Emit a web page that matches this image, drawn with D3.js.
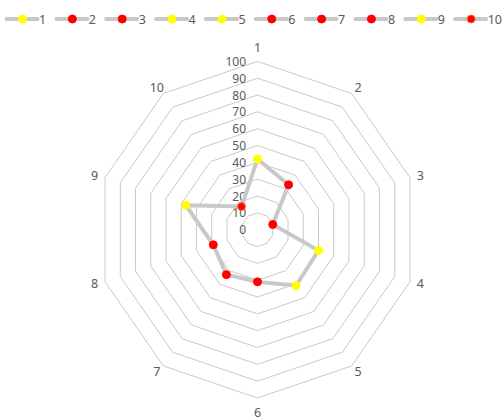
<!DOCTYPE html>
<html>
<head>
<meta charset="utf-8">
<script src="https://cdn.jsdelivr.net/npm/d3@7"></script>
<style>
  html, body { margin: 0; padding: 0; background: #fff; }
  svg { display: block; font-family: "Noto Sans", "Open Sans", sans-serif; }
</style>
</head>
<body>
<svg id="chart" width="504" height="419"></svg>
<script>
// ---- data ----
const categories = ["1", "2", "3", "4", "5", "6", "7", "8", "9", "10"];
const values = [42, 33, 10, 40, 41, 31, 33, 29, 47, 17];
const tickValues = [0, 10, 20, 30, 40, 50, 60, 70, 80, 90, 100];
const legendLabels = ["1", "2", "3", "4", "5", "6", "7", "8", "9", "10"];

// ---- styles ----
const pointFill = ["#FFFF00", "#FF0000", "#FF0000", "#FFFF00", "#FFFF00", "#FF0000", "#FF0000", "#FF0000", "#FFFF00", "#FF0000"];
const pointStroke = ["#FFFF00", "#FF0000", "#FF0000", "#FFFF00", "#FFFF00", "#FF0000", "#FF0000", "#FF0000", "#FFFF00", "#F07C2C"];
const textColor = "#595959";
const gridColor = "#C9C9C9";
const lineColor = "#C8C8C8";

const svg = d3.select("#chart");
const cx = 257.5, cy = 229.7;
const rx = d3.scaleLinear().domain([0, 100]).range([0, 160.3]);
const ry = d3.scaleLinear().domain([0, 100]).range([0, 168.3]);
const angle = d3.scaleLinear().domain([0, categories.length]).range([0, 2 * Math.PI]);

function pt(i, v) {
  const a = angle(i);
  return [cx + rx(v) * Math.sin(a), cy - ry(v) * Math.cos(a)];
}

// grid rings
const ringLine = d3.line().curve(d3.curveLinearClosed);
svg.append("g").selectAll("path")
  .data(tickValues.filter(t => t > 0))
  .join("path")
  .attr("d", t => ringLine(categories.map((c, i) => pt(i, t))))
  .attr("fill", "none")
  .attr("stroke", gridColor)
  .attr("stroke-width", 1);

// tick labels
svg.append("g").selectAll("text")
  .data(tickValues)
  .join("text")
  .attr("x", cx - 11.5)
  .attr("y", t => cy - ry(t))
  .attr("text-anchor", "end")
  .attr("dominant-baseline", "central")
  .attr("font-size", 12)
  .attr("fill", textColor)
  .text(t => t);

// category labels
svg.append("g").selectAll("text")
  .data(categories)
  .join("text")
  .attr("x", (c, i) => pt(i, 100)[0] + 11 * Math.sin(angle(i)))
  .attr("y", (c, i) => {
    const co = Math.cos(angle(i));
    const s = Math.abs(Math.sin(angle(i)));
    return pt(i, 100)[1] - (s < 0.01 ? 14 : 7) * co;
  })
  .attr("text-anchor", "middle")
  .attr("dominant-baseline", "central")
  .attr("font-size", 12.5)
  .attr("fill", textColor)
  .text(c => c);

// series line
svg.append("path")
  .attr("d", ringLine(values.map((v, i) => pt(i, v))))
  .attr("fill", "none")
  .attr("stroke", lineColor)
  .attr("stroke-width", 4)
  .attr("stroke-linejoin", "round");

// markers
svg.append("g").selectAll("circle")
  .data(values)
  .join("circle")
  .attr("cx", (v, i) => pt(i, v)[0])
  .attr("cy", (v, i) => pt(i, v)[1])
  .attr("r", 4)
  .attr("fill", (v, i) => pointFill[i])
  .attr("stroke", (v, i) => pointStroke[i])
  .attr("stroke-width", 1);

// legend
const lx = d3.scaleLinear().domain([0, legendLabels.length]).range([6.5, 505]);
const ly = 19;
const lg = svg.append("g").selectAll("g")
  .data(legendLabels)
  .join("g")
  .attr("transform", (d, i) => `translate(${lx(i)},${ly})`);
lg.append("line")
  .attr("x1", 0).attr("x2", 31)
  .attr("y1", 0).attr("y2", 0)
  .attr("stroke", lineColor)
  .attr("stroke-width", 4)
  .attr("stroke-linecap", "round");
lg.append("circle")
  .attr("cx", 16).attr("cy", 0).attr("r", 4)
  .attr("fill", (d, i) => pointFill[i])
  .attr("stroke", (d, i) => pointStroke[i])
  .attr("stroke-width", 1);
lg.append("text")
  .attr("x", 32.5).attr("y", 0)
  .attr("dominant-baseline", "central")
  .attr("font-size", 12.5)
  .attr("fill", textColor)
  .text(d => d);
</script>
</body>
</html>
